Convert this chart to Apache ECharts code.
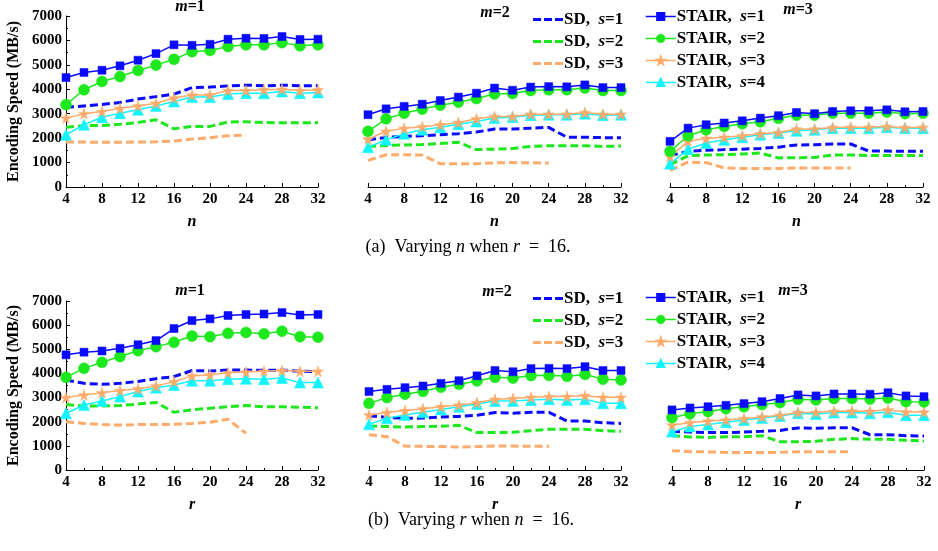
<!DOCTYPE html>
<html>
<head>
<meta charset="utf-8">
<script src="https://cdn.jsdelivr.net/npm/echarts@6/dist/echarts.min.js"></script>
<style>
  html, body { margin: 0; padding: 0; background: #fff; }
  #main { width: 938px; height: 551px; }
</style>
</head>
<body>
<div id="main"></div>
<script>
// x 取值 (n 或 r)
var xFull = [4, 6, 8, 10, 12, 14, 16, 18, 20, 22, 24, 26, 28, 30, 32];
var xShort = [4, 6, 8, 10, 12, 14, 16, 18, 20, 22, 24];   // SD s=3 只到 24
var xTicks = [4, 8, 12, 16, 20, 24, 28, 32];
var yTicks = [0, 1000, 2000, 3000, 4000, 5000, 6000, 7000];

// 图 (a) 改变 n, r=16
var a1SD1 = [3260, 3320, 3380, 3460, 3600, 3700, 3800, 4070, 4090, 4140, 4170, 4140, 4170, 4140, 4140];
var a1SD2 = [2450, 2510, 2520, 2570, 2640, 2750, 2380, 2480, 2480, 2660, 2670, 2640, 2630, 2630, 2630];
var a1SD3 = [1840, 1840, 1830, 1830, 1840, 1850, 1880, 1960, 2020, 2100, 2130];
var a1ST1 = [4480, 4690, 4780, 4960, 5190, 5460, 5820, 5800, 5840, 6050, 6090, 6080, 6160, 6040, 6050];
var a1ST2 = [3370, 3980, 4320, 4520, 4770, 4990, 5230, 5540, 5590, 5750, 5820, 5820, 5910, 5780, 5820];
var a1ST3 = [2820, 3000, 3090, 3220, 3320, 3430, 3640, 3770, 3770, 3950, 3950, 3980, 4000, 3950, 3980];
var a1ST4 = [2140, 2550, 2860, 3020, 3160, 3320, 3500, 3680, 3680, 3810, 3840, 3840, 3910, 3840, 3870];

var a2SD1 = [1930, 2030, 2070, 2100, 2140, 2180, 2250, 2370, 2370, 2410, 2440, 2040, 2040, 2020, 2020];
var a2SD2 = [1660, 1700, 1720, 1740, 1780, 1830, 1530, 1550, 1580, 1660, 1690, 1690, 1690, 1660, 1680];
var a2SD3 = [1090, 1320, 1320, 1310, 950, 950, 950, 990, 1000, 990, 980];
var a2ST1 = [2960, 3200, 3300, 3390, 3540, 3680, 3840, 4050, 3960, 4090, 4110, 4100, 4180, 4070, 4070];
var a2ST2 = [2280, 2790, 3020, 3190, 3350, 3470, 3620, 3810, 3830, 3950, 3980, 3980, 4050, 3950, 3950];
var a2ST3 = [1960, 2280, 2400, 2470, 2550, 2640, 2790, 2890, 2890, 2980, 2980, 2980, 3050, 2980, 2980];
var a2ST4 = [1630, 1930, 2180, 2340, 2450, 2570, 2680, 2820, 2860, 2940, 2960, 2960, 3000, 2940, 2960];

var a3SD1 = [1280, 1460, 1500, 1530, 1550, 1580, 1630, 1720, 1730, 1760, 1760, 1470, 1470, 1460, 1460];
var a3SD2 = [910, 1280, 1310, 1320, 1350, 1390, 1190, 1200, 1210, 1310, 1310, 1290, 1290, 1290, 1290];
var a3SD3 = [680, 1020, 1000, 780, 760, 760, 760, 780, 780, 780, 780];
var a3ST1 = [1870, 2410, 2550, 2620, 2710, 2820, 2920, 3050, 3000, 3090, 3120, 3120, 3160, 3080, 3090];
var a3ST2 = [1460, 2100, 2340, 2480, 2590, 2670, 2810, 2940, 2940, 3020, 3020, 3020, 3070, 3000, 3020];
var a3ST3 = [1250, 1870, 1990, 2040, 2100, 2180, 2230, 2370, 2370, 2440, 2450, 2450, 2480, 2430, 2450];
var a3ST4 = [950, 1550, 1800, 1930, 2040, 2140, 2210, 2300, 2340, 2410, 2410, 2410, 2450, 2410, 2410];

// 图 (b) 改变 r, n=16
var b1SD1 = [3730, 3590, 3550, 3590, 3670, 3780, 3870, 4120, 4100, 4140, 4140, 4130, 4140, 4090, 4070];
var b1SD2 = [2710, 2650, 2650, 2670, 2730, 2800, 2390, 2490, 2560, 2620, 2670, 2620, 2620, 2600, 2580];
var b1SD3 = [2000, 1930, 1880, 1860, 1880, 1880, 1890, 1930, 1980, 2100, 1520];
var b1ST1 = [4770, 4880, 4930, 5040, 5190, 5360, 5860, 6190, 6260, 6400, 6440, 6460, 6520, 6420, 6440];
var b1ST2 = [3840, 4210, 4460, 4700, 4940, 5110, 5290, 5550, 5520, 5660, 5700, 5640, 5750, 5520, 5500];
var b1ST3 = [3000, 3110, 3200, 3290, 3360, 3480, 3660, 3900, 3940, 4030, 4060, 4090, 4120, 4090, 4090];
var b1ST4 = [2350, 2690, 2860, 3040, 3250, 3410, 3520, 3700, 3700, 3760, 3780, 3760, 3810, 3620, 3620];

var b2SD1 = [2250, 2180, 2140, 2150, 2200, 2220, 2270, 2380, 2350, 2390, 2390, 2030, 2030, 1960, 1930];
var b2SD2 = [1820, 1800, 1780, 1800, 1810, 1850, 1550, 1550, 1560, 1630, 1690, 1690, 1690, 1630, 1600];
var b2SD3 = [1460, 1380, 990, 980, 970, 950, 970, 990, 990, 980, 980];
var b2ST1 = [3250, 3340, 3410, 3480, 3590, 3700, 3900, 4120, 4070, 4200, 4210, 4200, 4280, 4120, 4120];
var b2ST2 = [2760, 3000, 3140, 3260, 3430, 3550, 3690, 3840, 3810, 3910, 3920, 3880, 3960, 3760, 3730];
var b2ST3 = [2280, 2380, 2460, 2540, 2620, 2690, 2790, 2930, 2960, 3010, 3040, 3040, 3080, 3010, 3010];
var b2ST4 = [1890, 2140, 2280, 2390, 2510, 2620, 2730, 2860, 2860, 2900, 2930, 2900, 2930, 2760, 2760];

var b3SD1 = [1600, 1570, 1550, 1550, 1570, 1600, 1640, 1740, 1730, 1750, 1750, 1460, 1460, 1420, 1410];
var b3SD2 = [1420, 1370, 1350, 1380, 1380, 1420, 1170, 1170, 1190, 1270, 1300, 1270, 1270, 1230, 1200];
var b3SD3 = [800, 760, 750, 730, 730, 720, 730, 760, 760, 760, 760];
var b3ST1 = [2490, 2570, 2620, 2680, 2750, 2830, 2960, 3110, 3070, 3150, 3150, 3140, 3200, 3070, 3040];
var b3ST2 = [2170, 2330, 2420, 2540, 2620, 2710, 2790, 2930, 2900, 2960, 2960, 2940, 2980, 2830, 2820];
var b3ST3 = [1860, 1960, 2030, 2070, 2130, 2200, 2270, 2380, 2390, 2430, 2440, 2430, 2490, 2400, 2400];
var b3ST4 = [1590, 1800, 1880, 1980, 2070, 2150, 2240, 2350, 2320, 2380, 2380, 2350, 2390, 2270, 2270];

var sdNames = ['SD, s=1', 'SD, s=2', 'SD, s=3'];
var stNames = ['STAIR, s=1', 'STAIR, s=2', 'STAIR, s=3', 'STAIR, s=4'];
var panelTitles = ['1', '2', '3', '1', '2', '3'];

var FONT = 'Liberation Serif';
var colors = ['#0a0aff', '#1de81d', '#ffab6b', '#12f4ff'];
var starPath = 'path://M50,0 L61,35 L98,35 L68,57 L79,91 L50,70 L21,91 L32,57 L2,35 L39,35 Z';
var dashIcon = 'path://M0,0H8V3H0Z M11,0H19V3H11Z M22,0H30V3H22Z';
var stSymbols = ['rect', 'circle', starPath, 'triangle'];
var stSizes = [8, 11, 11, 11];

var panels = [
    [a1SD1, a1SD2, a1SD3, a1ST1, a1ST2, a1ST3, a1ST4],
    [a2SD1, a2SD2, a2SD3, a2ST1, a2ST2, a2ST3, a2ST4],
    [a3SD1, a3SD2, a3SD3, a3ST1, a3ST2, a3ST3, a3ST4],
    [b1SD1, b1SD2, b1SD3, b1ST1, b1ST2, b1ST3, b1ST4],
    [b2SD1, b2SD2, b2SD3, b2ST1, b2ST2, b2ST3, b2ST4],
    [b3SD1, b3SD2, b3SD3, b3ST1, b3ST2, b3ST3, b3ST4]
];

// 网格位置
var grids = [
    {left: 66, top: 16, width: 252, height: 171},
    {left: 368, top: 16, width: 253, height: 171},
    {left: 670, top: 16, width: 253, height: 171},
    {left: 66, top: 301, width: 252, height: 169},
    {left: 369, top: 301, width: 252, height: 169},
    {left: 672, top: 301, width: 252, height: 169}
];

function pairs(xs, ys) {
    return ys.map(function (v, i) { return [xs[i], v]; });
}

var xAxes = [], yAxes = [], series = [];
grids.forEach(function (g, k) {
    xAxes.push({
        gridIndex: k,
        type: 'value',
        min: xTicks[0],
        max: xTicks[xTicks.length - 1],
        interval: 4,
        name: k < 3 ? 'n' : 'r',
        nameLocation: 'middle',
        nameGap: 27,
        nameTextStyle: {fontFamily: FONT, fontWeight: 'bold', fontStyle: 'italic', fontSize: 16, color: '#000'},
        axisLine: {lineStyle: {color: '#000', width: 1}},
        axisTick: {inside: true, length: 4, lineStyle: {color: '#000'}},
        minorTick: {show: true, splitNumber: 2, length: 2, lineStyle: {color: '#000'}},
        splitLine: {show: false},
        axisLabel: {fontFamily: FONT, fontWeight: 'bold', fontSize: 15, color: '#000', margin: 5}
    });
    var showY = (k % 3 === 0);
    yAxes.push({
        gridIndex: k,
        type: 'value',
        min: yTicks[0],
        max: yTicks[yTicks.length - 1],
        interval: 1000,
        show: showY,
        name: 'Encoding Speed (MB/s)',
        nameLocation: 'middle',
        nameGap: 44,
        nameTextStyle: {fontFamily: FONT, fontWeight: 'bold', fontSize: 16, color: '#000'},
        axisLine: {show: true, lineStyle: {color: '#000', width: 1}},
        axisTick: {show: true, inside: true, length: 4, lineStyle: {color: '#000'}},
        minorTick: {show: true, splitNumber: 2, length: 2, lineStyle: {color: '#000'}},
        splitLine: {show: false},
        axisLabel: {
            fontFamily: FONT, fontWeight: 'bold', fontSize: 15, color: '#000', margin: 4,
            formatter: function (v) { return String(v); }
        }
    });

    var d = panels[k];
    // SD 虚线
    for (var i = 0; i < 3; i++) {
        series.push({
            name: sdNames[i],
            type: 'line',
            xAxisIndex: k,
            yAxisIndex: k,
            data: pairs(i === 2 ? xShort : xFull, d[i]),
            symbol: 'none',
            z: 2,
            lineStyle: {color: colors[i], width: 3, type: [8, 4]},
            itemStyle: {color: colors[i]}
        });
    }
    // STAIR 实线带标记
    for (var j = 0; j < 4; j++) {
        series.push({
            name: stNames[j],
            type: 'line',
            xAxisIndex: k,
            yAxisIndex: k,
            data: pairs(xFull, d[3 + j]),
            symbol: stSymbols[j],
            symbolSize: stSizes[j],
            showAllSymbol: true,
            z: 3 + (3 - j),
            lineStyle: {color: colors[j], width: 1.5},
            itemStyle: {color: colors[j], borderColor: colors[j], borderWidth: 0.5, opacity: 1}
        });
    }
});

function legendFmt(name) {
    var p = name.split('s=');
    return '{b|' + p[0] + ' }{i|s}{b|=' + p[1] + '}';
}
var legendRich = {
    b: {fontFamily: FONT, fontWeight: 'bold', fontSize: 17, color: '#000'},
    i: {fontFamily: FONT, fontWeight: 'bold', fontStyle: 'italic', fontSize: 17, color: '#000'}
};

function mkLegend(names, left, top, dashed) {
    var lg = {
        orient: 'vertical',
        left: left,
        top: top,
        data: names,
        itemWidth: 30,
        itemHeight: dashed ? 3 : 9,
        itemGap: dashed ? 5 : 5,
        padding: 0,
        selectedMode: false,
        formatter: legendFmt,
        textStyle: {padding: [0, 0, 0, -4], rich: legendRich}
    };
    if (dashed) {
        lg.icon = dashIcon;
    } else {
        lg.lineStyle = {width: 1.5, type: 'solid'};
    }
    return lg;
}

var legends = [
    mkLegend(sdNames, 533, 11, true),
    mkLegend(stNames, 645, 8, false),
    mkLegend(sdNames, 533, 290, true),
    mkLegend(stNames, 645, 289, false)
];

// 子图标题与图注
var titlePos = [[190, 7], [495, 13], [798, 10], [190, 291], [497, 292], [793, 291]];
var graphics = titlePos.map(function (p, k) {
    return {
        type: 'text',
        x: p[0],
        y: p[1],
        style: {
            text: '{i|m}{b|=' + panelTitles[k] + '}',
            align: 'center',
            verticalAlign: 'middle',
            rich: {
                b: {fontFamily: FONT, fontWeight: 'bold', fontSize: 16, fill: '#000'},
                i: {fontFamily: FONT, fontWeight: 'bold', fontStyle: 'italic', fontSize: 16, fill: '#000'}
            }
        }
    };
});
var capRich = {
    t: {fontFamily: FONT, fontSize: 18, fill: '#000'},
    i: {fontFamily: FONT, fontStyle: 'italic', fontSize: 18, fill: '#000'}
};
graphics.push({
    type: 'text', x: 468, y: 247,
    style: {text: '{t|(a)  Varying }{i|n}{t| when }{i|r}{t|  =  16.}', align: 'center', verticalAlign: 'middle', rich: capRich}
});
graphics.push({
    type: 'text', x: 471, y: 520,
    style: {text: '{t|(b)  Varying }{i|r}{t| when }{i|n}{t|  =  16.}', align: 'center', verticalAlign: 'middle', rich: capRich}
});

var myChart = echarts.init(document.getElementById('main'), null, {renderer: 'canvas'});
var option = {
    backgroundColor: '#fff',
    animation: false,
    grid: grids,
    xAxis: xAxes,
    yAxis: yAxes,
    legend: legends,
    graphic: graphics,
    series: series
};
myChart.setOption(option);
</script>
</body>
</html>
